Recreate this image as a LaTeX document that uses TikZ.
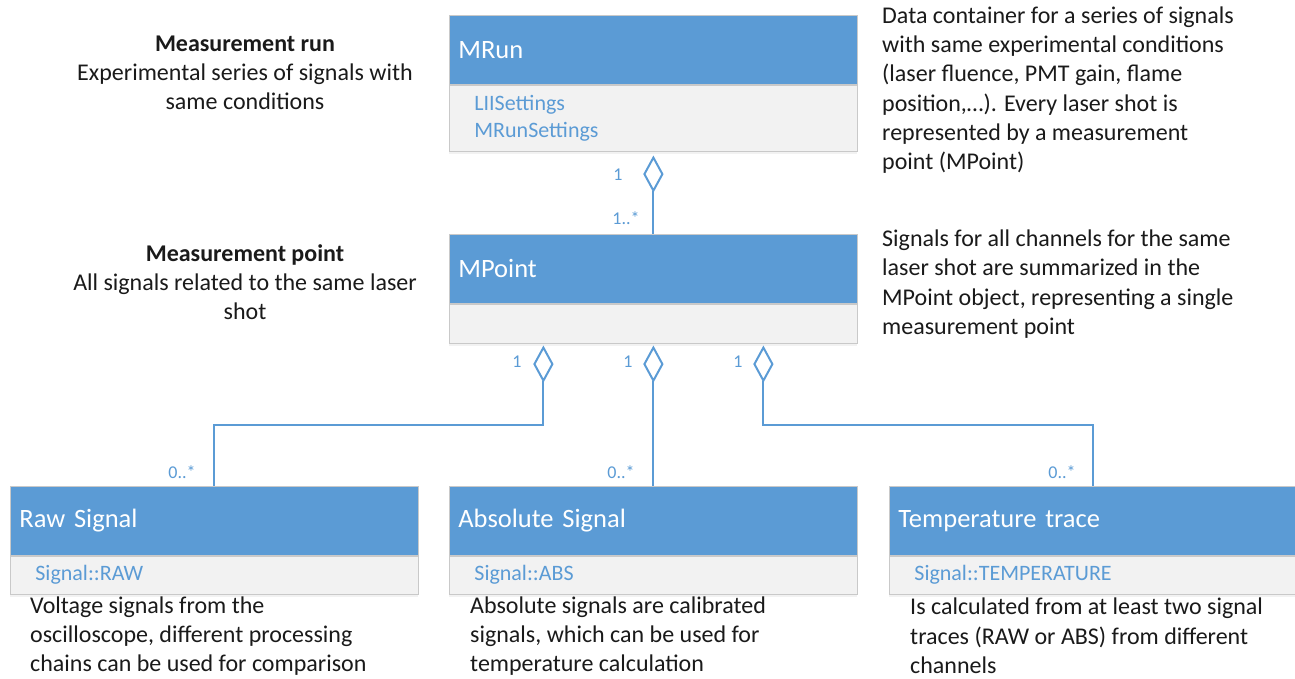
\documentclass[tikz,border=0pt]{standalone}
\usepackage{fontspec}
\setmainfont{Carlito}
\usetikzlibrary{shadows}
\definecolor{umlblue}{HTML}{5B9BD5}
\definecolor{attrgray}{HTML}{F2F2F2}
\definecolor{edgegray}{HTML}{C9C9C9}
\definecolor{ink}{HTML}{1A1A1A}

\tikzset{
  classhead/.style={anchor=north west, fill=umlblue, draw=edgegray, line width=0.8pt,
    text=white, minimum width=408pt, minimum height=69pt, text width=390pt,
    inner xsep=9pt, inner ysep=0pt, align=left, font=\fontsize{26.5}{32}\selectfont},
  classattr/.style={anchor=north west, fill=attrgray, draw=edgegray, line width=0.8pt,
    text=umlblue, minimum width=408pt, text width=358pt, inner xsep=25pt, inner ysep=0pt,
    align=left, font=\fontsize{22}{27}\selectfont,
    drop shadow={opacity=0.10, shadow xshift=0pt, shadow yshift=-3pt}},
  assoc/.style={draw=umlblue, line width=2pt},
  aggr/.style={draw=umlblue, line width=2pt, fill=white},
  mult/.style={text=umlblue, font=\fontsize{18}{21}\selectfont, inner sep=0pt},
  desc/.style={text=ink, font=\fontsize{24}{29.3}\selectfont, inner sep=0pt},
}

\begin{document}
\begin{tikzpicture}[x=1pt, y=-1pt]
  \clip (0,0) rectangle (1295,678);
  \fill[white] (0,0) rectangle (1295,678);

  % classes
  \node[classhead] (mrun) at (449,15) {MRun};
  \node[classattr, minimum height=66pt] (mrunattr) at (mrun.south west) {LIISettings\\MRunSettings};

  \node[classhead] (mpoint) at (449,234) {MPoint};
  \node[classattr, minimum height=39pt] (mpointattr) at (mpoint.south west) {};

  \node[classhead] (raw) at (10,486) {Raw Signal};
  \node[classattr, minimum height=38pt] (rawattr) at (raw.south west) {Signal::RAW};

  \node[classhead] (abs) at (449,486) {Absolute Signal};
  \node[classattr, minimum height=38pt] (absattr) at (abs.south west) {Signal::ABS};

  \node[classhead] (temp) at (889,486) {Temperature trace};
  \node[classattr, minimum height=38pt] (tempattr) at (temp.south west) {Signal::TEMPERATURE};

  % aggregation MRun <>-- MPoint
  \coordinate (dRun) at ([yshift=-6pt]mrunattr.south);
  \draw[aggr] (dRun) -- ++(9,16.5) -- ++(-9,16.5) coordinate (dRunEnd) -- ++(-9,-16.5) -- cycle;
  \draw[assoc] (dRunEnd) -- (mpoint.north);

  % aggregations MPoint <>-- signals
  \coordinate (dA) at ([xshift=-110pt,yshift=-4pt]mpointattr.south);
  \coordinate (dB) at ([yshift=-4pt]mpointattr.south);
  \coordinate (dC) at ([xshift=110pt,yshift=-4pt]mpointattr.south);
  \draw[aggr] (dA) -- ++(9,16.5) -- ++(-9,16.5) coordinate (dAEnd) -- ++(-9,-16.5) -- cycle;
  \draw[aggr] (dB) -- ++(9,16.5) -- ++(-9,16.5) coordinate (dBEnd) -- ++(-9,-16.5) -- cycle;
  \draw[aggr] (dC) -- ++(9,16.5) -- ++(-9,16.5) coordinate (dCEnd) -- ++(-9,-16.5) -- cycle;
  \draw[assoc] (dAEnd) -- ++(0,44) -| (raw.north);
  \draw[assoc] (dBEnd) -- (abs.north);
  \draw[assoc] (dCEnd) -- ++(0,44) -| (temp.north);

  % multiplicities
  \node[mult] (mRunOne) at (618,175) {1};
  \node[mult] (mRunMany) at (626,218) {1..*};
  \node[mult] (mA) at (517,362) {1};
  \node[mult] (mB) at (628,362) {1};
  \node[mult] (mC) at (738,362) {1};
  \node[mult] (mRaw) at (182,472) {0..*};
  \node[mult] (mAbs) at (621,472) {0..*};
  \node[mult] (mTemp) at (1062,472) {0..*};

  % notes
  \node[desc, align=center] (runnote) at (245,73)
    {\textbf{Measurement run}\\Experimental series of signals with\\same conditions};
  \node[desc, align=center] (pointnote) at (245,282)
    {\textbf{Measurement point}\\All signals related to the same laser\\shot};
  \node[desc, align=left, anchor=west] (runinfo) at (882,90)
    {Data container for a series of signals\\with same experimental conditions\\(laser fluence, PMT gain, flame\\position,…). Every laser shot is\\represented by a measurement\\point (MPoint)};
  \node[desc, align=left, anchor=west] (pointinfo) at (882,284)
    {Signals for all channels for the same\\laser shot are summarized in the\\MPoint object, representing a single\\measurement point};
  \node[desc, align=left, anchor=west] (rawnote) at (30,636)
    {Voltage signals from the\\oscilloscope, different processing\\chains can be used for comparison};
  \node[desc, align=left, anchor=west] (absnote) at (470,636)
    {Absolute signals are calibrated\\signals, which can be used for\\temperature calculation};
  \node[desc, align=left, anchor=west] (tempnote) at (910,636)
    {Is calculated from at least two signal\\traces (RAW or ABS) from different\\channels};
\end{tikzpicture}
\end{document}
